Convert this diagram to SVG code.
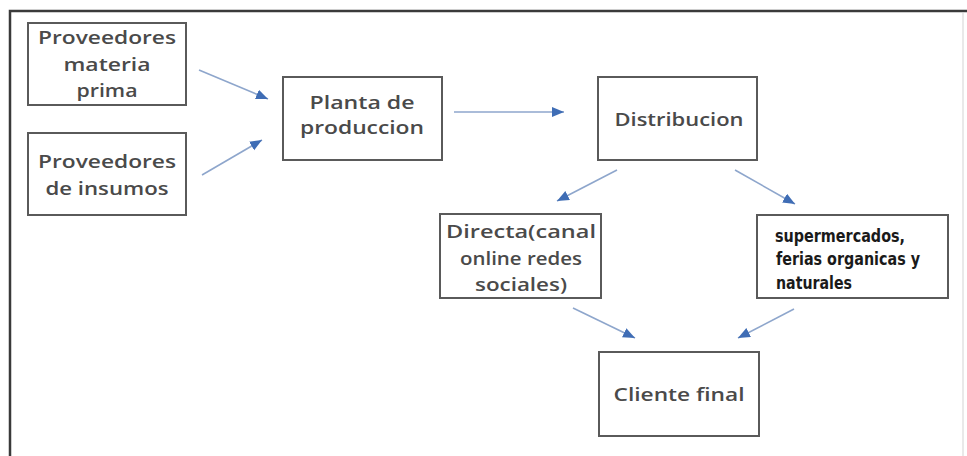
<svg xmlns="http://www.w3.org/2000/svg" width="967" height="456" viewBox="0 0 967 456">
<style>
.box{fill:#fff;stroke:#5a5a5a;stroke-width:2}
.t{font-family:"Open Sans","Liberation Sans",sans-serif;font-size:18px;font-weight:600;fill:#4a4a4a;text-anchor:middle}
.s{font-family:"DejaVu Sans Condensed","DejaVu Sans",sans-serif;font-size:17.5px;font-weight:600;fill:#1a1a1a}
.c{stroke:#8ea6cc;stroke-width:1.6;fill:none;marker-end:url(#ah)}
</style>
<defs>
<marker id="ah" markerUnits="userSpaceOnUse" markerWidth="14" markerHeight="12" refX="12" refY="5" orient="auto">
<path d="M0,0 L12,5 L0,10 Z" fill="#3f6db5"/>
</marker>
</defs>
<rect width="967" height="456" fill="#fff"/>
<g id="frame">
<path d="M10,456 V11 H967" fill="none" stroke="#3a3a3a" stroke-width="2.5"/>
<line x1="963" y1="13" x2="963" y2="456" stroke="#e2e2e2" stroke-width="1.5"/>
</g>
<g id="connectors">
<line class="c" x1="199" y1="70" x2="268" y2="99"/>
<line class="c" x1="202" y1="175" x2="262" y2="140"/>
<line class="c" x1="454" y1="112" x2="564" y2="112"/>
<line class="c" x1="617" y1="170" x2="557" y2="201"/>
<line class="c" x1="735" y1="170" x2="795" y2="204"/>
<line class="c" x1="573" y1="308" x2="635" y2="338"/>
<line class="c" x1="794" y1="309" x2="738" y2="338"/>
</g>
<g id="n1">
<rect class="box" x="28" y="23" width="158" height="82"/>
<text class="t" x="107" y="44" textLength="138" lengthAdjust="spacingAndGlyphs">Proveedores</text>
<text class="t" x="107" y="71" textLength="87" lengthAdjust="spacingAndGlyphs">materia</text>
<text class="t" x="107" y="97" textLength="61" lengthAdjust="spacingAndGlyphs">prima</text>
</g>
<g id="n2">
<rect class="box" x="28" y="133" width="158" height="82"/>
<text class="t" x="107" y="168" textLength="138" lengthAdjust="spacingAndGlyphs">Proveedores</text>
<text class="t" x="107" y="195" textLength="123" lengthAdjust="spacingAndGlyphs">de insumos</text>
</g>
<g id="n3">
<rect class="box" x="283" y="77" width="159" height="83"/>
<text class="t" x="362" y="109" textLength="105" lengthAdjust="spacingAndGlyphs">Planta de</text>
<text class="t" x="362" y="134" textLength="124" lengthAdjust="spacingAndGlyphs">produccion</text>
</g>
<g id="n4">
<rect class="box" x="598" y="77" width="159" height="83"/>
<text class="t" x="679" y="126" textLength="129" lengthAdjust="spacingAndGlyphs">Distribucion</text>
</g>
<g id="n5">
<rect class="box" x="440" y="214" width="161" height="84"/>
<text class="t" x="521" y="238" textLength="150" lengthAdjust="spacingAndGlyphs">Directa(canal</text>
<text class="t" x="521" y="265" textLength="122" lengthAdjust="spacingAndGlyphs">online redes</text>
<text class="t" x="521" y="291" textLength="92" lengthAdjust="spacingAndGlyphs">sociales)</text>
</g>
<g id="n6">
<rect class="box" x="757" y="215" width="191" height="83"/>
<text class="s" x="775" y="242" textLength="130" lengthAdjust="spacingAndGlyphs">supermercados,</text>
<text class="s" x="776" y="265" textLength="144" lengthAdjust="spacingAndGlyphs">ferias organicas y</text>
<text class="s" x="776" y="289" textLength="76" lengthAdjust="spacingAndGlyphs">naturales</text>
</g>
<g id="n7">
<rect class="box" x="599" y="352" width="160" height="84"/>
<text class="t" x="679" y="401" textLength="131" lengthAdjust="spacingAndGlyphs">Cliente final</text>
</g>
</svg>
